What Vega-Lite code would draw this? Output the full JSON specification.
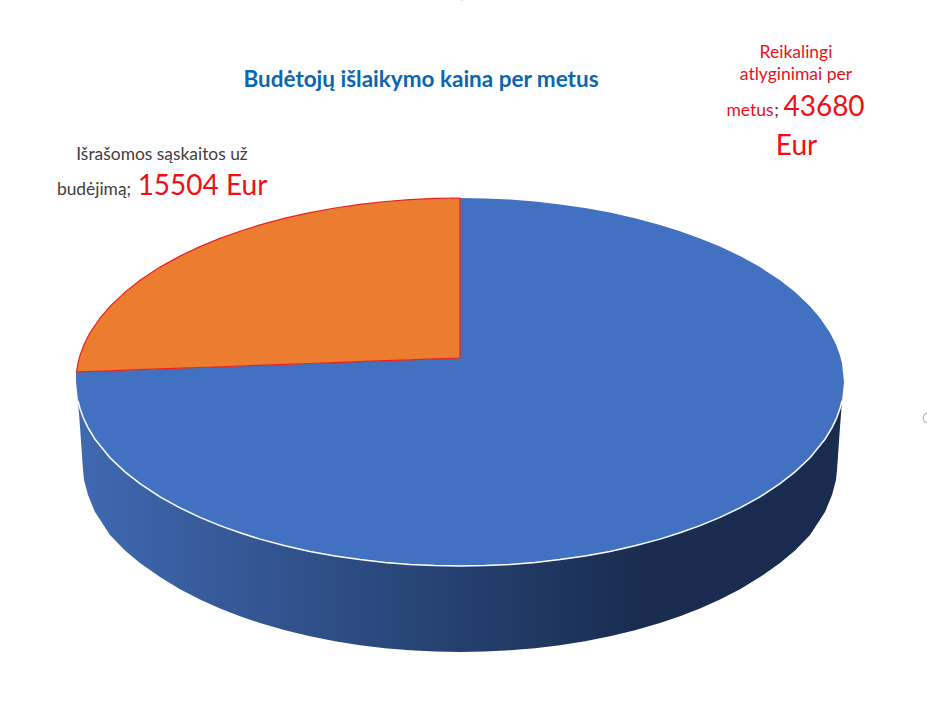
{
  "$schema": "https://vega.github.io/schema/vega-lite/v6.json",
  "width": 927,
  "height": 718,
  "padding": 0,
  "autosize": {"type": "fit", "contains": "padding"},
  "background": "white",
  "view": {"stroke": null},
  "datasets": {
    "wall": [
      {"x": -382, "y": -18.8, "y2": -18.8},
      {"x": -380, "y": -26.5, "y2": -45},
      {"x": -377, "y": -35, "y2": -88},
      {"x": -376, "y": -37.4, "y2": -98},
      {"x": -372, "y": -45.6, "y2": -113},
      {"x": -365, "y": -57.2, "y2": -130},
      {"x": -350, "y": -75.7, "y2": -153},
      {"x": -335, "y": -89.9, "y2": -168.5},
      {"x": -320, "y": -101.7, "y2": -181},
      {"x": -300, "y": -114.9, "y2": -195.1},
      {"x": -280, "y": -125.9, "y2": -207.2},
      {"x": -260, "y": -135.4, "y2": -217.6},
      {"x": -240, "y": -143.6, "y2": -226.5},
      {"x": -220, "y": -150.8, "y2": -234.3},
      {"x": -200, "y": -157.1, "y2": -241.1},
      {"x": -175, "y": -163.8, "y2": -248.3},
      {"x": -150, "y": -169.4, "y2": -254.3},
      {"x": -125, "y": -174, "y2": -259.2},
      {"x": -100, "y": -177.6, "y2": -263.2},
      {"x": -75, "y": -180.5, "y2": -266.2},
      {"x": -50, "y": -182.4, "y2": -268.3},
      {"x": -25, "y": -183.6, "y2": -269.6},
      {"x": 0, "y": -184, "y2": -270},
      {"x": 25, "y": -183.6, "y2": -269.6},
      {"x": 50, "y": -182.4, "y2": -268.3},
      {"x": 75, "y": -180.5, "y2": -266.2},
      {"x": 100, "y": -177.6, "y2": -263.2},
      {"x": 125, "y": -174, "y2": -259.2},
      {"x": 150, "y": -169.4, "y2": -254.3},
      {"x": 175, "y": -163.8, "y2": -248.3},
      {"x": 200, "y": -157.1, "y2": -241.1},
      {"x": 220, "y": -150.8, "y2": -234.3},
      {"x": 240, "y": -143.6, "y2": -226.5},
      {"x": 260, "y": -135.4, "y2": -217.6},
      {"x": 280, "y": -125.9, "y2": -207.2},
      {"x": 300, "y": -114.9, "y2": -195.1},
      {"x": 320, "y": -101.7, "y2": -181},
      {"x": 335, "y": -89.9, "y2": -168.5},
      {"x": 350, "y": -75.7, "y2": -153},
      {"x": 365, "y": -57.2, "y2": -130},
      {"x": 372, "y": -45.6, "y2": -113},
      {"x": 376, "y": -37.4, "y2": -98},
      {"x": 377, "y": -35, "y2": -88},
      {"x": 380, "y": -26.5, "y2": -45},
      {"x": 382, "y": -18.8, "y2": -18.8}
    ],
    "blue": [
      {"x": -384, "y": 10, "y2": 0},
      {"x": -382, "y": 10.1, "y2": -18.8},
      {"x": -380, "y": 10.1, "y2": -26.5},
      {"x": -376, "y": 10.3, "y2": -37.4},
      {"x": -370, "y": 10.5, "y2": -49.2},
      {"x": -360, "y": 10.9, "y2": -64},
      {"x": -350, "y": 11.2, "y2": -75.7},
      {"x": -335, "y": 11.8, "y2": -89.9},
      {"x": -320, "y": 12.3, "y2": -101.7},
      {"x": -300, "y": 13.1, "y2": -114.9},
      {"x": -280, "y": 13.8, "y2": -125.9},
      {"x": -260, "y": 14.5, "y2": -135.4},
      {"x": -240, "y": 15.2, "y2": -143.6},
      {"x": -220, "y": 16, "y2": -150.8},
      {"x": -200, "y": 16.7, "y2": -157.1},
      {"x": -175, "y": 17.6, "y2": -163.8},
      {"x": -150, "y": 18.5, "y2": -169.4},
      {"x": -125, "y": 19.4, "y2": -174},
      {"x": -100, "y": 20.4, "y2": -177.6},
      {"x": -75, "y": 21.3, "y2": -180.5},
      {"x": -50, "y": 22.2, "y2": -182.4},
      {"x": -25, "y": 23.1, "y2": -183.6},
      {"x": 0, "y": 24, "y2": -184},
      {"x": 0.1, "y": 184, "y2": -184},
      {"x": 25, "y": 183.6, "y2": -183.6},
      {"x": 50, "y": 182.4, "y2": -182.4},
      {"x": 75, "y": 180.5, "y2": -180.5},
      {"x": 100, "y": 177.6, "y2": -177.6},
      {"x": 125, "y": 174, "y2": -174},
      {"x": 150, "y": 169.4, "y2": -169.4},
      {"x": 175, "y": 163.8, "y2": -163.8},
      {"x": 200, "y": 157.1, "y2": -157.1},
      {"x": 220, "y": 150.8, "y2": -150.8},
      {"x": 240, "y": 143.6, "y2": -143.6},
      {"x": 260, "y": 135.4, "y2": -135.4},
      {"x": 280, "y": 125.9, "y2": -125.9},
      {"x": 300, "y": 114.9, "y2": -114.9},
      {"x": 320, "y": 101.7, "y2": -101.7},
      {"x": 335, "y": 89.9, "y2": -89.9},
      {"x": 350, "y": 75.7, "y2": -75.7},
      {"x": 360, "y": 64, "y2": -64},
      {"x": 370, "y": 49.2, "y2": -49.2},
      {"x": 376, "y": 37.4, "y2": -37.4},
      {"x": 380, "y": 26.5, "y2": -26.5},
      {"x": 382, "y": 18.8, "y2": -18.8},
      {"x": 384, "y": 0, "y2": 0}
    ],
    "orange": [
      {"x": -383.5, "y": 10, "y2": 10},
      {"x": -382, "y": 18.8, "y2": 10.1},
      {"x": -380, "y": 26.5, "y2": 10.1},
      {"x": -376, "y": 37.4, "y2": 10.3},
      {"x": -370, "y": 49.2, "y2": 10.5},
      {"x": -360, "y": 64, "y2": 10.9},
      {"x": -350, "y": 75.7, "y2": 11.2},
      {"x": -335, "y": 89.9, "y2": 11.8},
      {"x": -320, "y": 101.7, "y2": 12.3},
      {"x": -300, "y": 114.9, "y2": 13.1},
      {"x": -280, "y": 125.9, "y2": 13.8},
      {"x": -260, "y": 135.4, "y2": 14.5},
      {"x": -240, "y": 143.6, "y2": 15.2},
      {"x": -220, "y": 150.8, "y2": 16},
      {"x": -200, "y": 157.1, "y2": 16.7},
      {"x": -175, "y": 163.8, "y2": 17.6},
      {"x": -150, "y": 169.4, "y2": 18.5},
      {"x": -125, "y": 174, "y2": 19.4},
      {"x": -100, "y": 177.6, "y2": 20.4},
      {"x": -75, "y": 180.5, "y2": 21.3},
      {"x": -50, "y": 182.4, "y2": 22.2},
      {"x": -25, "y": 183.6, "y2": 23.1},
      {"x": 0, "y": 184, "y2": 24}
    ],
    "labels": [
      {"kind": "title", "text": "Budėtojų išlaikymo kaina per metus", "x": -39, "y": 295},
      {"kind": "grey", "text": "Išrašomos sąskaitos už", "x": -298, "y": 222},
      {"kind": "grey", "text": "budėjimą;", "x": -366, "y": 187},
      {"kind": "value", "text": "15504 Eur", "x": -257.5, "y": 187},
      {"kind": "red", "text": "Reikalingi", "x": 336, "y": 324},
      {"kind": "red", "text": "atlyginimai per", "x": 336, "y": 302},
      {"kind": "red", "text": "metus", "x": 290, "y": 266},
      {"kind": "grey", "text": ";", "x": 316.5, "y": 266},
      {"kind": "value", "text": "43680", "x": 364, "y": 266},
      {"kind": "value", "text": "Eur", "x": 336.5, "y": 227}
    ],
    "handles": [
      {"x": 468, "y": -36},
      {"x": 1.5, "y": 387}
    ]
  },
  "encoding": {
    "x": {"field": "x", "type": "quantitative", "axis": null, "scale": {"domain": [-460, 467], "nice": false, "zero": false}},
    "y": {"field": "y", "type": "quantitative", "axis": null, "scale": {"domain": [-336, 382], "nice": false, "zero": false}}
  },
  "layer": [
    {
      "data": {"name": "wall"},
      "mark": {
        "type": "area",
        "orient": "vertical",
        "color": {
          "gradient": "linear",
          "x1": 0, "y1": 0, "x2": 1, "y2": 0,
          "stops": [
            {"offset": 0, "color": "#4069b2"},
            {"offset": 0.5, "color": "#25406f"},
            {"offset": 0.74, "color": "#1a2c50"},
            {"offset": 1, "color": "#192b4e"}
          ]
        }
      },
      "encoding": {"y2": {"field": "y2"}}
    },
    {
      "data": {"name": "blue"},
      "mark": {"type": "area", "orient": "vertical", "color": "#4371c1"},
      "encoding": {"y2": {"field": "y2"}}
    },
    {
      "data": {"name": "wall"},
      "mark": {"type": "line", "color": "white", "strokeWidth": 1.5}
    },
    {
      "data": {"name": "orange"},
      "mark": {"type": "area", "orient": "vertical", "color": "#ec7c30", "stroke": "#e8231f", "strokeWidth": 1.2},
      "encoding": {"y2": {"field": "y2"}}
    },
    {
      "data": {"name": "handles"},
      "mark": {"type": "point", "shape": "circle", "filled": false, "size": 90, "stroke": "#a6a6a6", "strokeWidth": 1.5, "clip": true}
    },
    {
      "data": {"name": "labels"},
      "transform": [{"filter": "datum.kind == 'title'"}],
      "mark": {"type": "text", "font": "Lato", "fontWeight": "bold", "fontSize": 22.5, "color": "#0a66b2", "align": "center", "baseline": "alphabetic"},
      "encoding": {"text": {"field": "text"}}
    },
    {
      "data": {"name": "labels"},
      "transform": [{"filter": "datum.kind == 'grey'"}],
      "mark": {"type": "text", "font": "Lato", "fontSize": 17.4, "color": "#404040", "align": "center", "baseline": "alphabetic"},
      "encoding": {"text": {"field": "text"}}
    },
    {
      "data": {"name": "labels"},
      "transform": [{"filter": "datum.kind == 'red'"}],
      "mark": {"type": "text", "font": "Lato", "fontSize": 17.5, "color": "#e8101c", "align": "center", "baseline": "alphabetic"},
      "encoding": {"text": {"field": "text"}}
    },
    {
      "data": {"name": "labels"},
      "transform": [{"filter": "datum.kind == 'value'"}],
      "mark": {"type": "text", "font": "Lato", "fontSize": 28, "color": "#f00f14", "align": "center", "baseline": "alphabetic"},
      "encoding": {"text": {"field": "text"}}
    }
  ]
}
